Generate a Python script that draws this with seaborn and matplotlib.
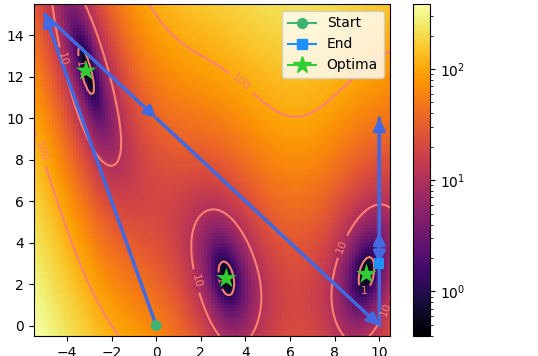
import numpy as np
import matplotlib
matplotlib.use('Agg')
import matplotlib.pyplot as plt
import seaborn as sns
from matplotlib.colors import LogNorm
from matplotlib.lines import Line2D

# --- данные ---
# путь оптимизатора (по порядку шагов)
path_x = [0, -5, 0, 10, 10, 10, 10]
path_y = [0, 15, 10, 0, 4.5, 10, 3]

# глобальные минимумы функции Branin
optima_x = [-np.pi, np.pi, 9.42478]
optima_y = [12.275, 2.275, 2.475]

contour_levels = [1, 10, 100]
label_spots = [(-4.2, 12.85), (-3.4, 12.6), (-5.2, 8.4), (3.8, 11.7), (1.6, 2.1),
               (2.8, 2.15), (8.35, 3.8), (9.3, 1.7), (10.25, 0.8)]


def branin(x1, x2):
    a, b, c = 1.0, 5.1 / (4 * np.pi ** 2), 5 / np.pi
    r, s, t = 6.0, 10.0, 1 / (8 * np.pi)
    return a * (x2 - b * x1 ** 2 + c * x1 - r) ** 2 + s * (1 - t) * np.cos(x1) + s


gx = np.linspace(-5.5, 10.5, 120)
gy = np.linspace(-0.5, 15.5, 120)
X, Y = np.meshgrid(gx, gy)
Z = branin(X, Y)

fig = plt.figure(figsize=(5.38, 3.56), dpi=100)
ax = fig.add_axes([0.0623, 0.0562, 0.6635, 0.9326])
cax = fig.add_axes([0.7677, 0.0562, 0.0322, 0.9326])

im = ax.imshow(Z, origin='lower', extent=[-5.5, 10.5, -0.5, 15.5], aspect='auto',
               cmap='inferno', norm=LogNorm(vmin=Z.min(), vmax=Z.max()),
               interpolation='nearest')
cs = ax.contour(X, Y, Z, levels=contour_levels, colors='salmon', linewidths=1.5)
ax.clabel(cs, fmt='%d', fontsize=8, manual=label_spots)

# стрелки шагов
for i in range(len(path_x) - 1):
    ax.annotate('', xy=(path_x[i + 1], path_y[i + 1]), xytext=(path_x[i], path_y[i]),
                arrowprops=dict(arrowstyle='-|>', color='royalblue', lw=2.5,
                                mutation_scale=17, shrinkA=0, shrinkB=0))

sns.scatterplot(x=[path_x[0]], y=[path_y[0]], ax=ax, color='mediumseagreen', marker='o',
                s=60, edgecolor='none', zorder=5, legend=False)
sns.scatterplot(x=[path_x[-1]], y=[path_y[-1]], ax=ax, color='dodgerblue', marker='s',
                s=55, edgecolor='none', zorder=5, legend=False)
sns.scatterplot(x=optima_x, y=optima_y, ax=ax, color='limegreen', marker='*',
                s=240, edgecolor='none', zorder=6, legend=False)

ax.set_xlim(-5.5, 10.5)
ax.set_ylim(-0.5, 15.5)
ax.set_xticks([-4, -2, 0, 2, 4, 6, 8, 10])
ax.set_yticks([0, 2, 4, 6, 8, 10, 12, 14])
ax.set_ylabel('$x_2$')
ax.yaxis.set_label_coords(-0.105, 0.5)

handles = [
    Line2D([], [], color='mediumseagreen', marker='o', markersize=7, lw=1.5, label='Start'),
    Line2D([], [], color='dodgerblue', marker='s', markersize=7, lw=1.5, label='End'),
    Line2D([], [], color='limegreen', marker='*', markersize=13, lw=1.5, label='Optima'),
]
ax.legend(handles=handles, loc='upper right')

fig.colorbar(im, cax=cax)

plt.savefig('out.png', dpi=100)
plt.close()
